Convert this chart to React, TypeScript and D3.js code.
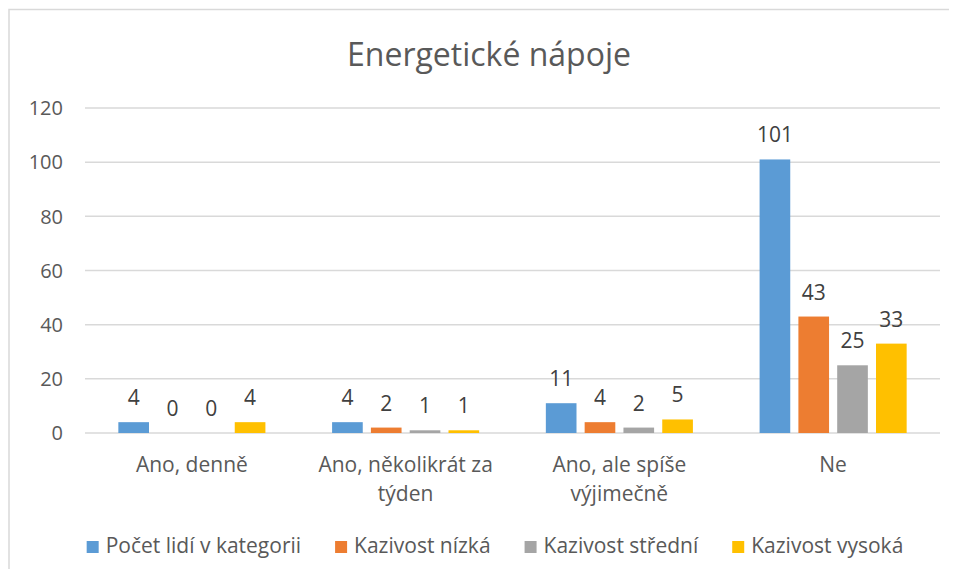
import * as React from 'react';
import * as d3 from 'd3';

const categories = ['Ano, denně', 'Ano, několikrát za týden', 'Ano, ale spíše výjimečně', 'Ne'];
const seriesNames = ['Počet lidí v kategorii', 'Kazivost nízká', 'Kazivost střední', 'Kazivost vysoká'];
const pocetLidi = [4, 4, 11, 101];
const kazivostNizka = [0, 2, 4, 43];
const kazivostStredni = [0, 1, 2, 25];
const kazivostVysoka = [4, 1, 5, 33];
const colors = ['#5b9bd5', '#ed7d31', '#a5a5a5', '#ffc000'];
const yTicks = [0, 20, 40, 60, 80, 100, 120];
const title = 'Energetické nápoje';

const FONT = '"Open Sans", "Noto Sans", sans-serif';

export default function App() {
  const ref = React.useRef<SVGSVGElement>(null);

  React.useEffect(() => {
    const width = 941;
    const height = 561;
    const plot = {left: 77, right: 932, top: 100, bottom: 425};
    const series = [pocetLidi, kazivostNizka, kazivostStredni, kazivostVysoka];

    const svg = d3.select(ref.current);
    svg.selectAll('*').remove();
    svg.attr('width', width).attr('height', height).style('display', 'block');

    // chart frame (only top and left edges are visible in the crop)
    svg.append('rect')
      .attr('x', 1).attr('y', 1.5)
      .attr('width', 2000).attr('height', 2000)
      .attr('fill', '#fff')
      .attr('stroke', '#d9d9d9')
      .attr('stroke-width', 1.5);

    svg.append('text')
      .attr('x', 481).attr('y', 58)
      .attr('text-anchor', 'middle')
      .style('font', `32px ${FONT}`)
      .attr('fill', '#595959')
      .text(title);

    const y = d3.scaleLinear().domain([0, 120]).range([plot.bottom, plot.top]);
    const x0 = d3.scaleBand<string>().domain(categories)
      .range([plot.left, plot.right])
      .paddingInner(0.312).paddingOuter(0.156);
    const x1 = d3.scaleBand<number>().domain(d3.range(series.length))
      .range([0, x0.bandwidth()])
      .paddingInner(0.21);

    // gridlines + tick labels
    const grid = svg.append('g');
    grid.selectAll('line').data(yTicks).enter().append('line')
      .attr('x1', plot.left).attr('x2', plot.right)
      .attr('y1', d => y(d)).attr('y2', d => y(d))
      .attr('stroke', '#d9d9d9').attr('stroke-width', 1.5);
    grid.selectAll('text').data(yTicks).enter().append('text')
      .attr('x', 55).attr('y', d => y(d)).attr('dy', '0.36em')
      .attr('text-anchor', 'end')
      .style('font', `20px ${FONT}`)
      .attr('fill', '#595959')
      .text(d => d);

    // bars
    const groups = svg.selectAll('.cat').data(categories).enter().append('g')
      .attr('class', 'cat')
      .attr('transform', d => `translate(${x0(d)},0)`);
    groups.each(function (_, ci) {
      const g = d3.select(this);
      series.forEach((s, si) => {
        const v = s[ci];
        g.append('rect')
          .attr('x', x1(si)!).attr('y', y(v))
          .attr('width', x1.bandwidth())
          .attr('height', y(0) - y(v))
          .attr('fill', colors[si]);
        g.append('text')
          .attr('x', x1(si)! + x1.bandwidth() / 2)
          .attr('y', y(v) - 17)
          .attr('text-anchor', 'middle')
          .style('font', `21px ${FONT}`)
          .attr('fill', '#404040')
          .text(v);
      });
    });

    // category labels, wrapped to the band width
    const labels = svg.append('g');
    categories.forEach(c => {
      const cx = x0(c)! + x0.bandwidth() / 2;
      const t = labels.append('text')
        .attr('text-anchor', 'middle')
        .style('font', `21px ${FONT}`)
        .attr('fill', '#595959');
      const words = c.split(' ');
      let line: string[] = [];
      let lineNo = 0;
      let tspan = t.append('tspan').attr('x', cx).attr('y', 464);
      words.forEach(w => {
        line.push(w);
        tspan.text(line.join(' '));
        if ((tspan.node() as SVGTSpanElement).getComputedTextLength() > 200 && line.length > 1) {
          line.pop();
          tspan.text(line.join(' '));
          line = [w];
          lineNo++;
          tspan = t.append('tspan').attr('x', cx).attr('y', 464 + lineNo * 29).text(w);
        }
      });
    });

    // legend
    const legend = svg.append('g');
    let lx = 0;
    seriesNames.forEach((name, i) => {
      legend.append('rect')
        .attr('x', lx).attr('y', 533)
        .attr('width', 12).attr('height', 12)
        .attr('fill', colors[i]);
      const t = legend.append('text')
        .attr('x', lx + 19).attr('y', 545)
        .style('font', `21px ${FONT}`)
        .attr('fill', '#595959')
        .text(name);
      lx += 19 + (t.node() as SVGTextElement).getComputedTextLength() + 34;
    });
    const total = lx - 34;
    legend.attr('transform', `translate(${487 - total / 2},0)`);
  }, []);

  return <svg ref={ref}></svg>;
}
